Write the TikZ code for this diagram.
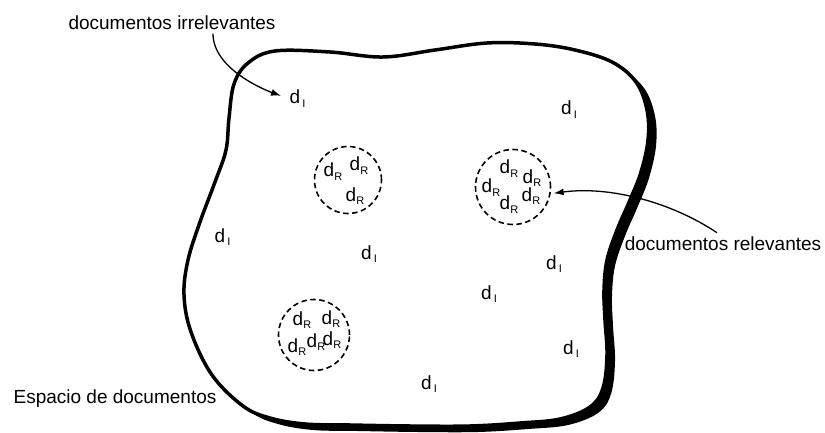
\documentclass[tikz,border=0pt]{standalone}
\usepackage{fontspec}
\setmainfont{Liberation Sans}
\usetikzlibrary{arrows.meta}

\newcommand{\subsz}{\fontsize{11}{11}\selectfont}
\newcommand{\docI}{d\hspace{2pt}\raisebox{-3.5pt}{\subsz I}}
\newcommand{\docR}{d\raisebox{-3.5pt}{\subsz R}}
% outline of the document space (inner, thin side)
\newcommand{\spaceoutline}{plot[smooth cycle, tension=0.6] coordinates {
  (229,118) (234,84) (248,63) (275,51) (330,52) (383,57) (435,50)
  (487,43) (535,44) (575,50) (612,62) (636,82) (647,110) (648,140) (641,172)
  (630,200) (617,230) (607,260) (604,290) (605,320) (607,355) (603,388)
  (590,407) (560,419) (520,423) (470,426) (410,426) (350,425) (305,424)
  (270,418) (243,406) (212,375) (191,332) (184,295) (188,260) (200,222)
  (215,182) (226,150)}}

\tikzset{
  doc/.style={anchor=base west, inner sep=0pt},
  cluster/.style={circle, draw, dash pattern=on 5.5pt off 3.5pt, line width=1.6pt},
  lbl/.style={anchor=base},
  pointer/.style={-{Latex[length=10pt,width=7pt]}, line width=1.3pt},
}

\begin{document}
\begin{tikzpicture}[x=1pt, y=-1pt, every node/.style={font=\fontsize{19}{23}\selectfont}]
\useasboundingbox (0,0) rectangle (825,433);
% space, thicker on the right and bottom
\begin{scope}[shift={(8,6)}]
  \fill \spaceoutline;
\end{scope}
\fill[white] \spaceoutline;
\draw[line width=3.5pt] \spaceoutline;

% groups of relevant documents
\node[cluster, minimum size=67pt] (grpA) at (348,180) {};
\node[cluster, minimum size=75pt] (grpB) at (513,187) {};
\node[cluster, minimum size=71pt] (grpC) at (314,335) {};

\foreach \p [count=\i] in {(323.5,177), (349.5,171), (345.5,201),
    (499.5,174), (522.5,183), (481.5,193), (521.5,201), (499.5,210),
    (292.5,325), (321.5,324), (287.5,352), (306.5,347), (322.5,345)}
  \node[doc] (dR\i) at \p {\docR};

% irrelevant documents
\foreach \p [count=\i] in {(289.5,104), (561,115), (214.5,242), (361,259),
    (546,269), (481,299), (563,354), (421,389)}
  \node[doc] (dI\i) at \p {\docI};

% labels
\node[lbl] (lblIrr) at (172,30) {documentos irrelevantes};
\node[lbl] (lblRel) at (723,250) {documentos relevantes};
\node[lbl] (lblSpace) at (115,403) {Espacio de documentos};

\draw[pointer, shorten >=9pt] ([xshift=41pt]lblIrr.south)
  .. controls +(0,35) and +(-25,-9) .. (dI1.west);
\draw[pointer, shorten >=3pt] ([xshift=-6pt]lblRel.north)
  .. controls +(-45,-30) and +(60,-8) .. (grpB.-10);
\end{tikzpicture}
\end{document}
